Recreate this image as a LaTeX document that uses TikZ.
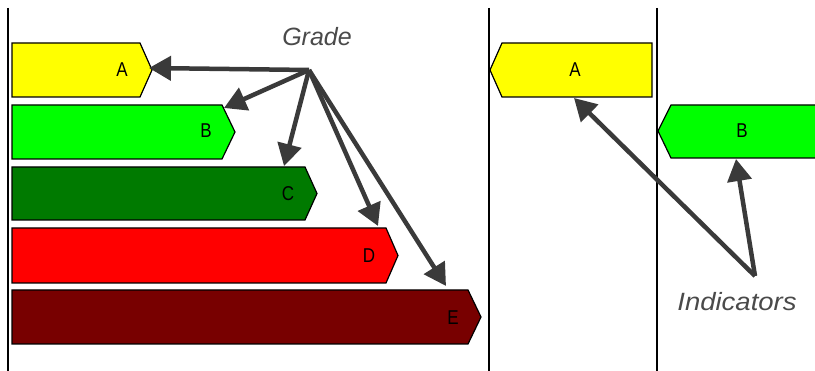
\documentclass[tikz,border=0pt]{standalone}
\usepackage{fontspec}
\setmainfont{Liberation Sans}
\usetikzlibrary{arrows.meta}
\definecolor{arrowgray}{HTML}{3A3A3A}
\definecolor{textgray}{HTML}{4A4A4A}
\definecolor{cyellow}{HTML}{FFFF00}
\definecolor{clime}{HTML}{00FF00}
\definecolor{cgreen}{HTML}{007A00}
\definecolor{cred}{HTML}{FF0000}
\definecolor{cmaroon}{HTML}{780000}
\begin{document}
\begin{tikzpicture}[x=1pt,y=-1pt,
  bar/.style={draw=black,line width=1.2pt},
  lab/.style={font=\fontsize{20}{20}\selectfont,text=black,inner sep=0pt,xscale=0.85},
  title/.style={font=\fontsize{25}{25}\selectfont\itshape,text=textgray,inner sep=0pt},
  ptr/.style={draw=arrowgray,line width=4.5pt,-{Triangle[length=22pt,width=24pt]}},
  divider/.style={draw=black,line width=1.2pt}]
\useasboundingbox (0,0) rectangle (815,371);
% dividers
\draw[divider] (8,8) -- (8,371);
\draw[divider] (489,8) -- (489,371);
\draw[divider] (657,8) -- (657,371);
% left bars
\path[bar,fill=cyellow] (12,43) -- (140,43) -- (152,70) -- (140,97) -- (12,97) -- cycle;
\path[bar,fill=clime] (12,105) -- (222,105) -- (235,132) -- (222,159) -- (12,159) -- cycle;
\path[bar,fill=cgreen] (12,167) -- (305,167) -- (317,193.5) -- (305,220) -- (12,220) -- cycle;
\path[bar,fill=cred] (12,228) -- (386,228) -- (398,255.5) -- (386,283) -- (12,283) -- cycle;
\path[bar,fill=cmaroon] (12,290) -- (468,290) -- (481,317) -- (468,344) -- (12,344) -- cycle;
\node[lab] (la) at (122,70) {A};
\node[lab] (lb) at (206,131) {B};
\node[lab] (lc) at (288,194) {C};
\node[lab] (ld) at (369,256) {D};
\node[lab] (le) at (453,318) {E};
% right bars
\path[bar,fill=cyellow] (490,70) -- (502,43) -- (652,43) -- (652,97) -- (502,97) -- cycle;
\path[bar,fill=clime] (658,131) -- (671,105) -- (830,105) -- (830,158) -- (671,158) -- cycle;
\node[lab] (ra) at (575,70) {A};
\node[lab] (rb) at (742,131) {B};
% titles
\node[title] (grade) at (317,37) {Grade};
\node[title,xscale=1.1] (ind) at (737,302) {Indicators};
% arrow endpoints
\coordinate (g) at (309,70);
\coordinate (ta) at (149,68);
\coordinate (tb) at (224,108);
\coordinate (tc) at (284,166);
\coordinate (td) at (378,226);
\coordinate (te) at (446,286);
\coordinate (i) at (755,276);
\coordinate (tra) at (574,98);
\coordinate (trb) at (736,159);
\draw[ptr] (g) -- (ta);
\draw[ptr] (g) -- (tb);
\draw[ptr] (g) -- (tc);
\draw[ptr] (g) -- (td);
\draw[ptr] (g) -- (te);
\draw[ptr] (i) -- (tra);
\draw[ptr] (i) -- (trb);
\end{tikzpicture}
\end{document}
